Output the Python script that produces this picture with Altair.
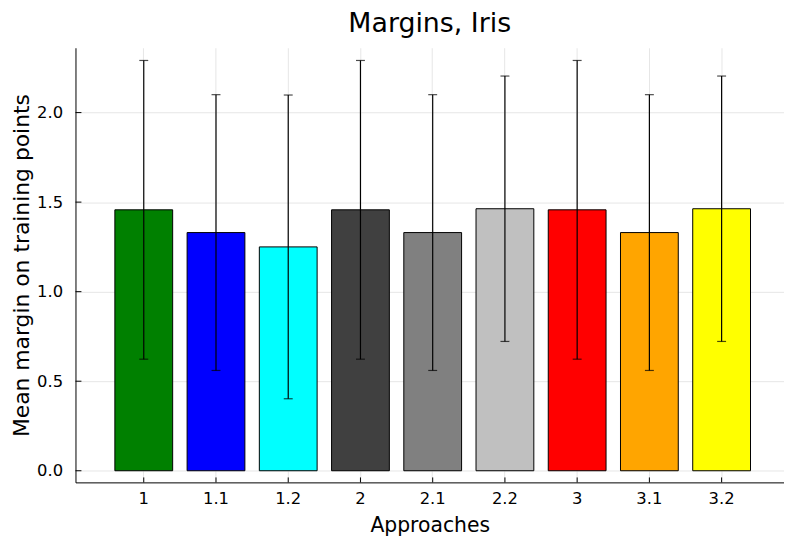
import altair as alt
import pandas as pd

# ---- data ----
approaches = ["1", "1.1", "1.2", "2", "2.1", "2.2", "3", "3.1", "3.2"]
mean_margin = [1.457, 1.330, 1.250, 1.457, 1.330, 1.463, 1.457, 1.330, 1.463]
std_margin = [0.834, 0.770, 0.848, 0.834, 0.770, 0.741, 0.834, 0.770, 0.741]
bar_colors = ["#008000", "#0000ff", "#00ffff", "#404040", "#808080",
              "#c0c0c0", "#ff0000", "#ffa500", "#ffff00"]
y_ticks = [0.0, 0.5, 1.0, 1.5, 2.0]
y_domain = [-0.065, 2.362]

df = pd.DataFrame({"approach": approaches, "mean": mean_margin, "std": std_margin})
df["lo"] = df["mean"] - df["std"]
df["hi"] = df["mean"] + df["std"]
ticks_df = pd.DataFrame({"v": y_ticks})

W, H = 714, 438
FONT = "DejaVu Sans"

x_scale = alt.Scale(domain=approaches, paddingInner=0.2, paddingOuter=0.5045, align=0.5405)
y_scale = alt.Scale(domain=y_domain, nice=False, zero=False)

grid_kw = dict(grid=True, gridColor="#e6e6e6", gridWidth=1)
x_axis = alt.Axis(title="Approaches", titleFont=FONT, titleFontSize=20.5, titleFontWeight="normal",
                  titleColor="black", titleBaseline="alphabetic", titleY=49,
                  labelFont=FONT, labelFontSize=16.5, labelColor="black", labelAngle=0,
                  labelBaseline="alphabetic", labelPadding=21,
                  ticks=False, tickSize=0, domainColor="black", domainWidth=1, **grid_kw)
y_axis = alt.Axis(title="Mean margin on training points", values=y_ticks, format=".1f",
                  titleFont=FONT, titleFontSize=22, titleFontWeight="normal", titleColor="black",
                  titleAngle=270, titleBaseline="alphabetic", titleX=-47,
                  labelFont=FONT, labelFontSize=16.5, labelColor="black", labelPadding=13,
                  ticks=False, tickSize=0, domainColor="black", domainWidth=1, **grid_kw)

X = alt.X("approach:N", scale=x_scale, sort=approaches, axis=x_axis)

bars = alt.Chart(df).mark_bar(stroke="black", strokeWidth=1).encode(
    x=X,
    y=alt.Y("mean:Q", scale=y_scale, axis=y_axis),
    y2=alt.datum(0),
    color=alt.Color("approach:N", scale=alt.Scale(domain=approaches, range=bar_colors), legend=None),
)

err = alt.Chart(df).mark_rule(color="black", strokeWidth=1.2).encode(
    x=X, y=alt.Y("lo:Q", scale=y_scale, axis=y_axis), y2="hi:Q"
)
cap_lo = alt.Chart(df).mark_tick(color="black", thickness=1.2, size=9).encode(
    x=X, y=alt.Y("lo:Q", scale=y_scale, axis=y_axis)
)
cap_hi = alt.Chart(df).mark_tick(color="black", thickness=1.2, size=9).encode(
    x=X, y=alt.Y("hi:Q", scale=y_scale, axis=y_axis)
)

# inward tick marks (Plots.jl style)
xticks = alt.Chart(df).mark_rule(color="black", strokeWidth=1).encode(
    x=X, y=alt.value(H), y2=alt.value(H - 5)
)
yticks = alt.Chart(ticks_df).mark_rule(color="black", strokeWidth=1).encode(
    y=alt.Y("v:Q", scale=y_scale, axis=y_axis), x=alt.value(0), x2=alt.value(6)
)

chart = alt.layer(bars, err, cap_lo, cap_hi, xticks, yticks).properties(
    width=W, height=H,
    title=alt.TitleParams("Margins, Iris", font=FONT, fontSize=27, fontWeight="normal",
                          color="black", anchor="middle", baseline="alphabetic", offset=-11),
    autosize=alt.AutoSizeParams(type="none"),
    padding={"left": 68, "top": 38, "right": 0, "bottom": 56},
    background="white",
).configure_view(stroke=None)

chart.save("out.html", embed_options={"renderer": "svg", "actions": False})
